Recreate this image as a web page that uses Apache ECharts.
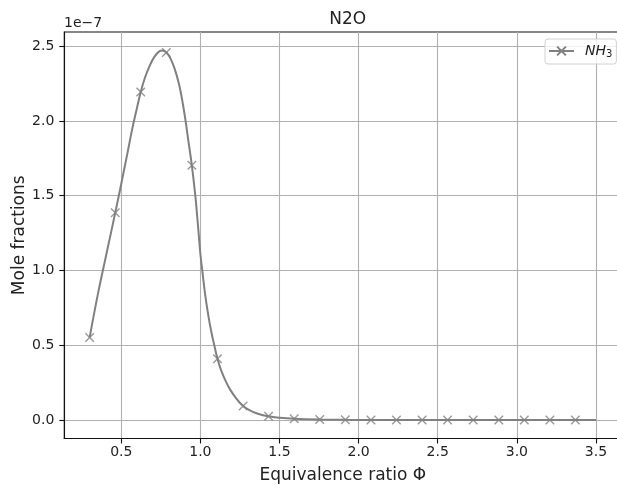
<!DOCTYPE html>
<html>
<head>
<meta charset="utf-8">
<script src="https://cdn.jsdelivr.net/npm/echarts@6/dist/echarts.min.js"></script>
<style>
html,body{margin:0;padding:0;background:#fff;}
#chart{width:617px;height:491px;}
</style>
</head>
<body>
<div id="chart"></div>
<script>
// Values are in units of 1e-7 mole fraction
const curveX = [0.30, 0.35, 0.40, 0.462, 0.50, 0.54, 0.57, 0.60, 0.623, 0.65, 0.68, 0.71, 0.74, 0.76, 0.785, 0.81, 0.837, 0.864, 0.885, 0.905, 0.925, 0.946, 0.968, 0.98, 0.99, 1.0, 1.012, 1.03, 1.05, 1.07, 1.09, 1.108, 1.13, 1.16, 1.19, 1.23, 1.27, 1.31, 1.35, 1.39, 1.431, 1.50, 1.593, 1.754, 1.916, 2.078, 2.239, 2.401, 2.562, 2.724, 2.886, 3.047, 3.209, 3.370, 3.50];
const curveY = [0.551, 0.83, 1.08, 1.386, 1.58, 1.79, 1.95, 2.09, 2.193, 2.29, 2.37, 2.43, 2.465, 2.471, 2.458, 2.42, 2.35, 2.25, 2.14, 2.01, 1.86, 1.703, 1.50, 1.36, 1.235, 1.11, 1.0, 0.84, 0.70, 0.585, 0.49, 0.41, 0.335, 0.26, 0.20, 0.14, 0.093, 0.066, 0.047, 0.034, 0.025, 0.015, 0.008, 0.003, 0.001, 0.0004, 0.0002, 0.0001, 0, 0, 0, 0, 0, 0, 0];
const markerX = [0.300, 0.462, 0.623, 0.785, 0.946, 1.108, 1.270, 1.431, 1.593, 1.754, 1.916, 2.078, 2.239, 2.401, 2.562, 2.724, 2.886, 3.047, 3.209, 3.370];
const markerY = [0.551, 1.386, 2.193, 2.458, 1.703, 0.41, 0.093, 0.025, 0.008, 0.003, 0.001, 0.0004, 0.0002, 0.0001, 0, 0, 0, 0, 0, 0];
const xTicks = [0.5, 1.0, 1.5, 2.0, 2.5, 3.0, 3.5];
const yTicks = [0.0, 0.5, 1.0, 1.5, 2.0, 2.5];
const seriesName = 'NH3';
const titleText = 'N2O';
const xLabel = 'Equivalence ratio \u03A6';
const yLabel = 'Mole fractions';
const offsetText = '1e\u22127';

const FONT = 'DejaVu Sans';
const GRAY = '#808080';
const XMARK = 'path://M0,0L10,10M0,10L10,0';

const chart = echarts.init(document.getElementById('chart'), null, {renderer: 'canvas'});
const lineData = curveX.map((x, i) => [x, curveY[i]]);
const markData = markerX.map((x, i) => [x, markerY[i]]);

chart.setOption({
  animation: false,
  backgroundColor: '#fff',
  textStyle: {fontFamily: FONT},
  title: {
    text: titleText, left: 342.7, top: 6, textAlign: 'center',
    textStyle: {fontFamily: FONT, fontSize: 17, fontWeight: 'normal', color: '#222'}
  },
  grid: {left: 64.3, top: 32, right: -4.3, bottom: 52.5, show: true, borderColor: '#111', borderWidth: 1.1,
         containLabel: false, outerBoundsMode: 'none'},
  legend: {
    data: [seriesName], left: 545, top: 39,
    padding: [5, 4, 5, 3], itemWidth: 25, itemHeight: 11,
    backgroundColor: 'rgba(255,255,255,0.8)', borderColor: '#d0d0d0', borderWidth: 1, borderRadius: 3,
    formatter: () => '{a|NH}{b|3}',
    textStyle: {
      fontFamily: FONT, color: '#222',
      rich: {
        a: {fontFamily: FONT, fontSize: 14, fontStyle: 'italic', color: '#222', padding: [0, 0, 0, 6]},
        b: {fontFamily: FONT, fontSize: 10, color: '#222', padding: [6, 0, 0, 0]}
      }
    }
  },
  graphic: [{
    type: 'text', left: 64, top: 16,
    style: {text: offsetText, font: '14px "DejaVu Sans"', fill: '#222'}
  }],
  xAxis: {
    type: 'value', min: 0.14, max: 3.66,
    name: xLabel, nameLocation: 'middle', nameGap: 29, nameMoveOverlap: false,
    nameTextStyle: {fontFamily: FONT, fontSize: 17, color: '#222'},
    axisLine: {show: true, onZero: false, lineStyle: {color: '#111', width: 1.1}},
    axisTick: {show: true, length: 5, customValues: xTicks, lineStyle: {color: '#111', width: 1.1}},
    axisLabel: {customValues: xTicks, formatter: v => v.toFixed(1), fontFamily: FONT, fontSize: 14, color: '#222', margin: 7},
    splitLine: {show: true, lineStyle: {color: '#b0b0b0', width: 1.1}}
  },
  yAxis: {
    type: 'value', min: -0.1236, max: 2.5946,
    name: yLabel, nameLocation: 'middle', nameGap: 36, nameMoveOverlap: false,
    nameTextStyle: {fontFamily: FONT, fontSize: 17, color: '#222'},
    axisLine: {show: true, onZero: false, lineStyle: {color: '#111', width: 1.1}},
    axisTick: {show: true, length: 5, customValues: yTicks, lineStyle: {color: '#111', width: 1.1}},
    axisLabel: {customValues: yTicks, formatter: v => v.toFixed(1), fontFamily: FONT, fontSize: 14, color: '#222', margin: 10},
    splitLine: {show: true, lineStyle: {color: '#b0b0b0', width: 1.1}}
  },
  series: [{
    name: seriesName, type: 'line', data: lineData,
    smooth: 0.35, showSymbol: false, symbol: XMARK, symbolSize: 8.5,
    lineStyle: {color: GRAY, width: 2},
    itemStyle: {color: GRAY, borderColor: GRAY, borderWidth: 1.4},
    z: 3
  }, {
    name: seriesName + '_markers', type: 'scatter', data: markData,
    symbol: XMARK, symbolSize: 8.5,
    itemStyle: {color: GRAY, borderColor: GRAY, borderWidth: 1.4},
    z: 4
  }]
});
</script>
</body>
</html>
